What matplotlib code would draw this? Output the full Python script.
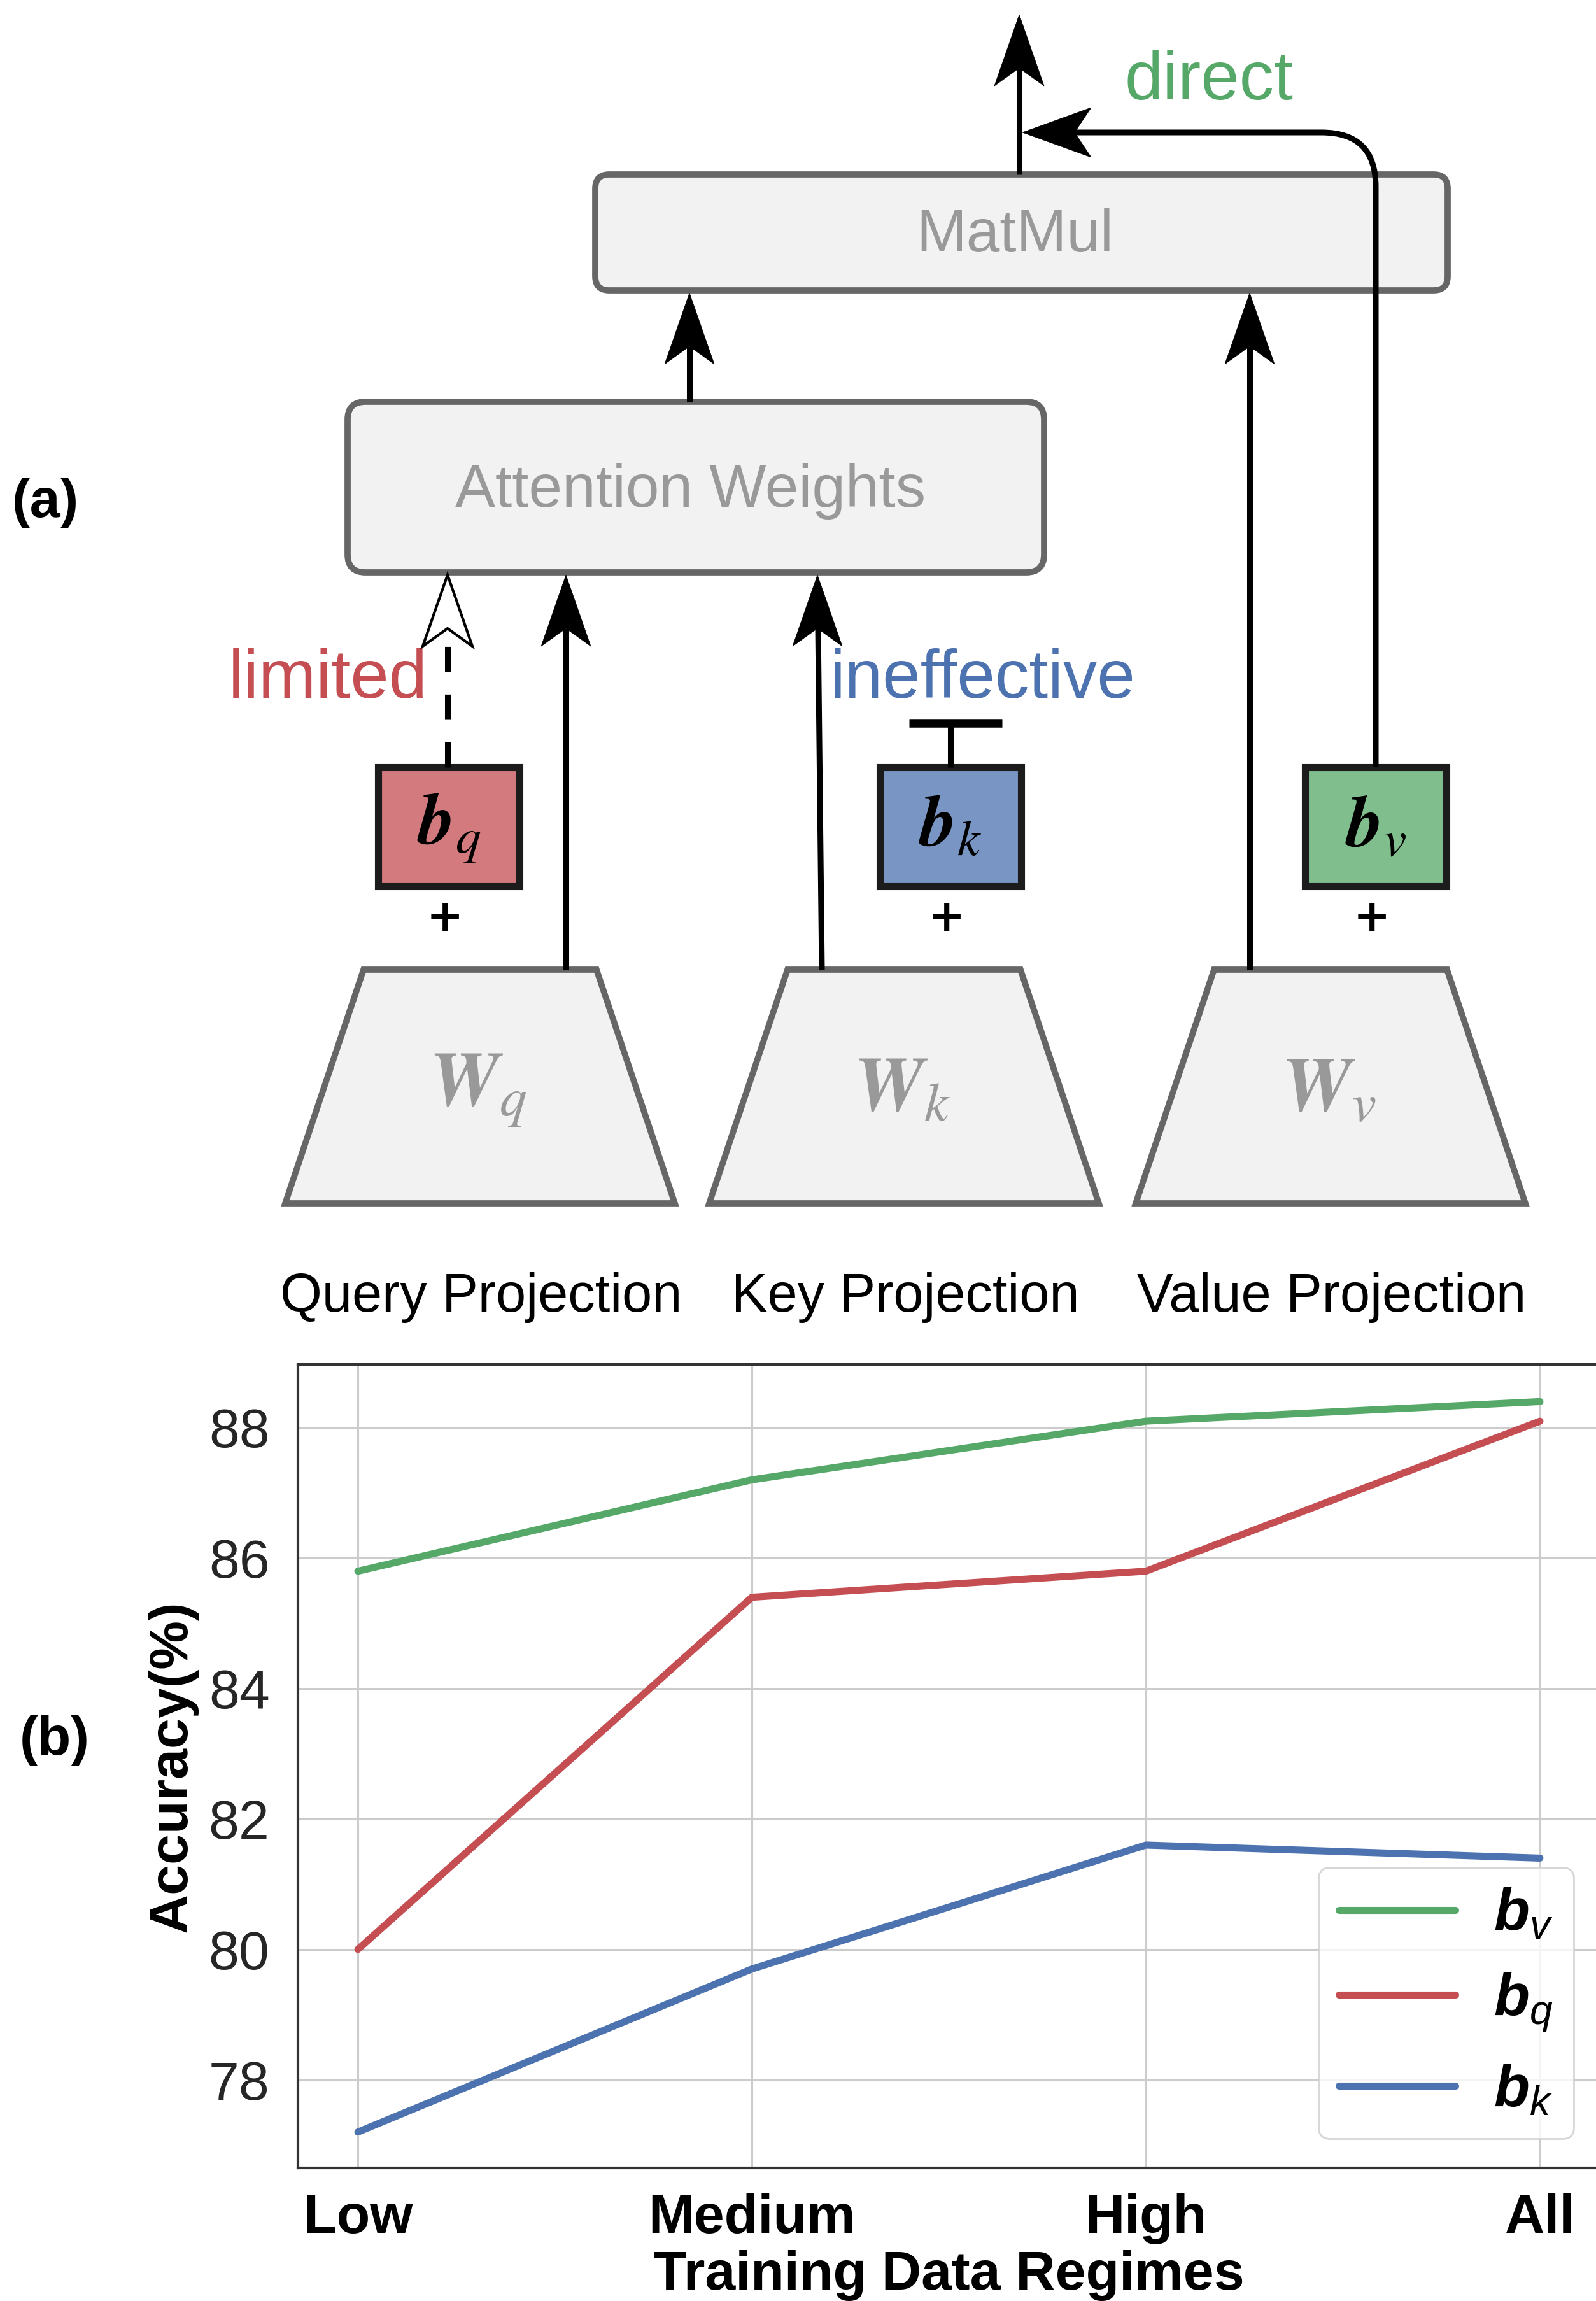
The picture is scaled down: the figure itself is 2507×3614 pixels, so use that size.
import numpy as np
import matplotlib.pyplot as plt
from matplotlib.patches import FancyBboxPatch, Polygon, Rectangle, PathPatch
from matplotlib.path import Path

plt.rcParams['font.family'] = ['Liberation Sans', 'DejaVu Sans']
plt.rcParams['mathtext.fontset'] = 'custom'
plt.rcParams['mathtext.rm'] = 'Liberation Sans'
plt.rcParams['mathtext.it'] = 'Liberation Sans:italic'
plt.rcParams['mathtext.bf'] = 'Liberation Sans:bold'
plt.rcParams['mathtext.bfit'] = 'Liberation Sans:italic:bold'

# chart data (panel b)
regimes = ['Low', 'Medium', 'High', 'All']
acc_bv = [85.8, 87.2, 88.1, 88.4]
acc_bq = [80.0, 85.4, 85.8, 88.1]
acc_bk = [77.2, 79.7, 81.6, 81.4]
series_labels = [r'$\mathbfit{b}_v$', r'$\mathbfit{b}_q$', r'$\mathbfit{b}_k$']
yticks = [78, 80, 82, 84, 86, 88]

GREEN, RED, BLUE = '#55a868', '#c44e52', '#4c72b0'
EDGE = '#666666'
FILL = '#f2f2f2'

fig = plt.figure(figsize=(25.07, 36.14), dpi=100)

# ---- panel (a): diagram, drawn in pixel coordinates ----
dax = fig.add_axes([0, 0, 1, 1])
dax.set_xlim(0, 2507)
dax.set_ylim(3614, 0)
dax.axis('off')


def rbox(x0, y0, x1, y1, r):
    dax.add_patch(FancyBboxPatch((x0, y0), x1 - x0, y1 - y0,
                                 boxstyle=f'round,pad=0,rounding_size={r}',
                                 fc=FILL, ec=EDGE, lw=7, zorder=2))


def vline(x, y0, y1, **kw):
    dax.plot([x, x], [y0, y1], color='k', lw=6.5, solid_capstyle='butt', zorder=4, **kw)


def head_up(x, y, open_=False, L=112, W=39, N=28):
    pts = [(x, y), (x - W, y + L), (x, y + L - N), (x + W, y + L)]
    dax.add_patch(Polygon(pts, closed=True, fc='white' if open_ else 'k', ec='k',
                          lw=3 if open_ else 0.5, joinstyle='miter', zorder=6))
    return y + L - N


def head_left(x, y, L=108, W=39, N=26):
    pts = [(x, y), (x + L, y - W), (x + L - N, y), (x + L, y + W)]
    dax.add_patch(Polygon(pts, closed=True, fc='k', ec='k', lw=0.5, zorder=6))
    return x + L - N


# boxes
rbox(935, 274, 2274, 456, 22)
rbox(546, 631, 1640, 899, 28)
dax.text(1594, 370, 'MatMul', fontsize=68, color='#999999', ha='center', va='center', zorder=3)
dax.text(1085, 771, 'Attention Weights', fontsize=68, color='#999999', ha='center', va='center', zorder=3)

# projection trapezoids
proj_cx = [754, 1420, 2090]
proj_sub = ['q', 'k', 'v']
proj_names = ['Query Projection', 'Key Projection', 'Value Projection']
for cx, s, name in zip(proj_cx, proj_sub, proj_names):
    pts = [(cx - 183, 1523), (cx + 183, 1523), (cx + 306, 1890), (cx - 306, 1890)]
    dax.add_patch(Polygon(pts, closed=True, fc=FILL, ec=EDGE, lw=7, zorder=2))
    dax.text(cx - 3, 1713, r'$\mathbfit{W}_' + s + '$', fontsize=88, color='#999999',
             ha='center', va='center', math_fontfamily='stix', zorder=3)
    dax.text(cx + 2, 2060, name, fontsize=61, color='k', ha='center', va='baseline')

# bias boxes
bias_cx = [705, 1493, 2161]
bias_col = [RED, BLUE, GREEN]
for cx, s, c in zip(bias_cx, proj_sub, bias_col):
    rgba = plt.matplotlib.colors.to_rgba(c, 0.75)
    dax.add_patch(Rectangle((cx - 111, 1205), 222, 187, fc=rgba, ec='#1c1c1c', lw=8, zorder=3))
    dax.text(cx, 1300, r'$\mathbfit{b}_' + s + '$', fontsize=82, color='k',
             ha='center', va='center', math_fontfamily='stix', zorder=4)
    dax.text(cx - 6, 1442, '+', fontsize=50, fontweight='bold', color='k',
             ha='center', va='center', family='DejaVu Sans')

# arrows into MatMul / out of MatMul
vline(1083, 631, head_up(1083, 460))
vline(1963, 1523, head_up(1963, 460))
vline(1601, 274, head_up(1601, 23))

# arrows into Attention Weights
vline(889, 1523, head_up(889, 903))
dax.plot([1291, 1285], [1523, head_up(1284, 903)], color='k', lw=6.5,
         solid_capstyle='butt', zorder=4)
nb = head_up(703, 903, open_=True)
dax.plot([703, 703], [1205, nb], color='k', lw=6.5, linestyle=(0, (4.4, 3.9)),
         dash_capstyle='butt', zorder=4)

# inhibited key bias
vline(1493, 1205, 1136)
dax.plot([1428, 1574], [1136, 1136], color='k', lw=9, solid_capstyle='butt', zorder=4)

# direct value-bias path
R = 85
xe = head_left(1606, 208)
path = Path([(2161, 1205), (2161, 208 + R), (2161, 208), (2161 - R, 208), (xe, 208)],
            [Path.MOVETO, Path.LINETO, Path.CURVE3, Path.CURVE3, Path.LINETO])
dax.add_patch(PathPatch(path, fc='none', ec='k', lw=6.5, capstyle='butt', zorder=4))

# annotations
dax.text(672, 1096, 'limited', fontsize=78, color=RED, ha='right', va='baseline')
dax.text(1304, 1096, 'ineffective', fontsize=77, color=BLUE, ha='left', va='baseline')
dax.text(1767, 156, 'direct', fontsize=78, color=GREEN, ha='left', va='baseline')

# panel labels
dax.text(71, 790, '(a)', fontsize=62, fontweight='bold', ha='center', va='center')
dax.text(86, 2734, '(b)', fontsize=62, fontweight='bold', ha='center', va='center')

# ---- panel (b): line chart ----
ax = fig.add_axes([468 / 2507, 1 - 3405 / 3614, 2045 / 2507, 1262 / 3614])
x = np.arange(len(regimes))
for vals, c, lab in zip([acc_bv, acc_bq, acc_bk], [GREEN, RED, BLUE], series_labels):
    ax.plot(x, vals, color=c, lw=8, label=lab, solid_capstyle='round')

ax.set_xlim(-0.152, 3.152)
ax.set_ylim(76.65, 88.97)
ax.set_xticks(x)
ax.set_xticklabels(regimes, fontweight='bold')
ax.set_yticks(yticks)
ax.grid(True, color='#cccccc', lw=2.2)
ax.set_axisbelow(True)
ax.tick_params(axis='y', labelsize=62, pad=32, length=0, labelcolor='#262626')
ax.tick_params(axis='x', labelsize=62, pad=29, length=0)
for sp in ax.spines.values():
    sp.set_color('#333333')
    sp.set_linewidth(3)
ax.set_xlabel('Training Data Regimes', fontsize=62, fontweight='bold', labelpad=6)
ax.set_ylabel('Accuracy(%)', fontsize=62, fontweight='bold', labelpad=12)

leg = ax.legend(loc='lower right', bbox_to_anchor=(0.98, 0.0365), borderaxespad=0,
                fontsize=66, handlelength=2.0, handletextpad=0.65, labelspacing=0.5,
                borderpad=0.35, fancybox=True, edgecolor='#cccccc', framealpha=0.8)
leg.get_frame().set_linewidth(2)

fig.savefig('out.png', dpi=100)
